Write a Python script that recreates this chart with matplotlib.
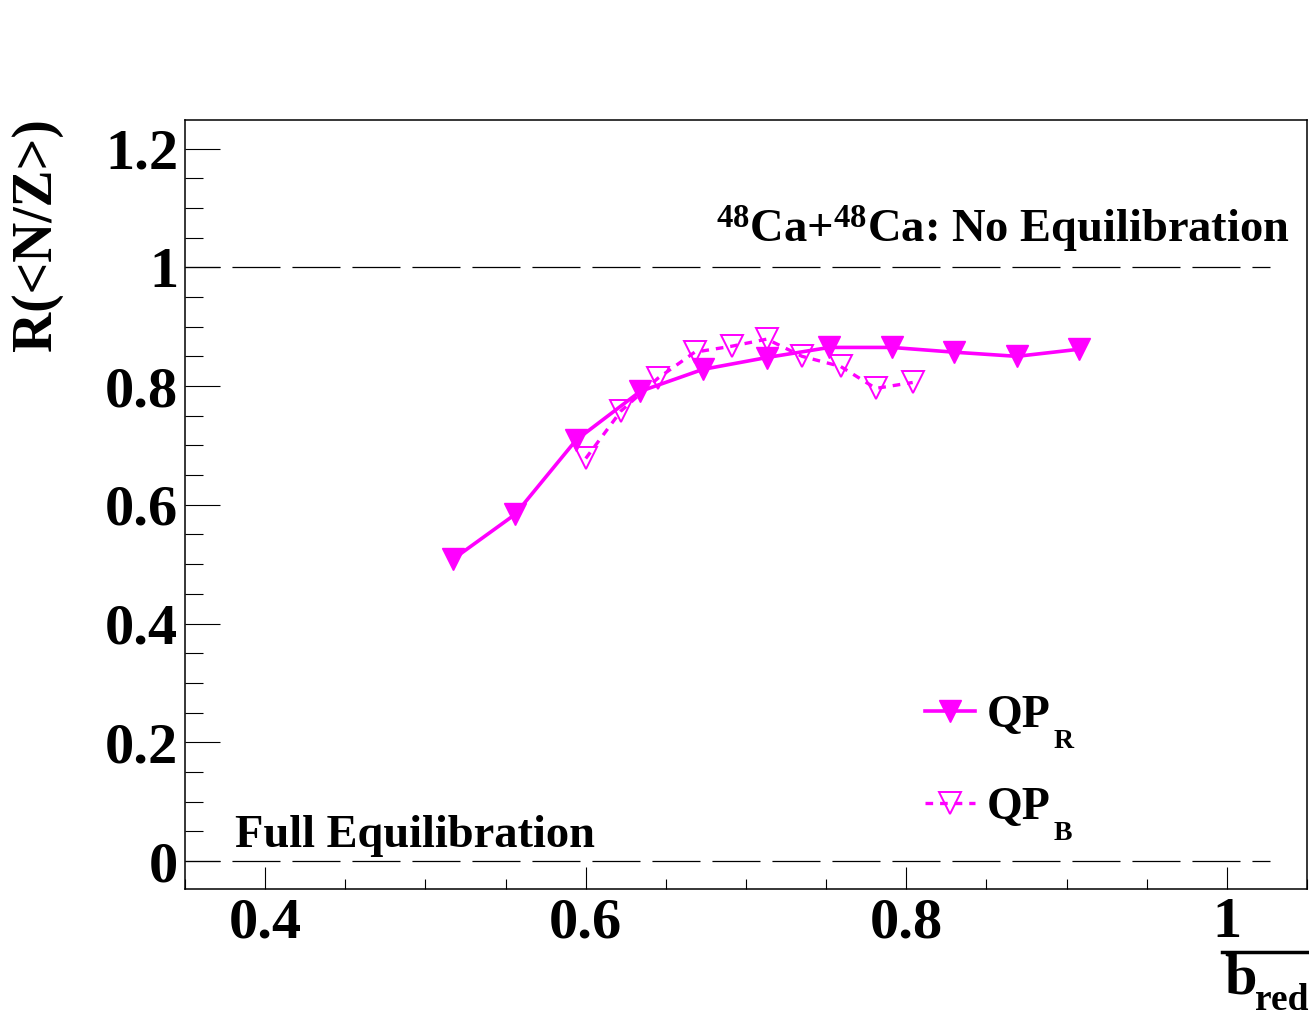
import matplotlib
matplotlib.use("Agg")
import matplotlib.pyplot as plt
from matplotlib.ticker import MultipleLocator, FixedLocator
from matplotlib.lines import Line2D

# ---- data ----
qpr_x = [0.517, 0.556, 0.594, 0.634, 0.673, 0.713, 0.752, 0.791, 0.830, 0.869, 0.908]
qpr_y = [0.508, 0.584, 0.709, 0.791, 0.828, 0.848, 0.865, 0.865, 0.857, 0.850, 0.862]
qpb_x = [0.600, 0.622, 0.645, 0.668, 0.691, 0.713, 0.735, 0.759, 0.781, 0.804]
qpb_y = [0.678, 0.758, 0.813, 0.857, 0.867, 0.879, 0.850, 0.833, 0.796, 0.806]
x_ticks = [0.4, 0.6, 0.8, 1.0]
x_ticklabels = ["0.4", "0.6", "0.8", "1"]
y_ticks = [0, 0.2, 0.4, 0.6, 0.8, 1.0, 1.2]
y_ticklabels = ["0", "0.2", "0.4", "0.6", "0.8", "1", "1.2"]
ref_levels = [0.0, 1.0]
series_names = ["QP", "QP"]
series_subs = ["R", "B"]

plt.rcParams['font.family'] = ['Liberation Serif', 'DejaVu Serif']
plt.rcParams['font.weight'] = 'bold'
plt.rcParams['mathtext.fontset'] = 'custom'
plt.rcParams['mathtext.rm'] = 'Liberation Serif:bold'
plt.rcParams['mathtext.it'] = 'Liberation Serif:bold'
plt.rcParams['mathtext.bf'] = 'Liberation Serif:bold'
plt.rcParams['lines.scale_dashes'] = False

W, H = 1309, 1016
fig = plt.figure(figsize=(W / 100, H / 100), dpi=100)
ax = fig.add_axes([185 / W, 1 - 889 / H, (1307 - 185) / W, (889 - 120) / H])
ax.set_xlim(0.35, 1.05)
ax.set_ylim(-0.047, 1.248)

mag = '#ff00ff'
# reference dashed lines
for lv in ref_levels:
    ax.plot([0.35, 1.027], [lv, lv], color='black', lw=0.9,
            linestyle=(9.4, (34.6, 8.6)), zorder=1)

ax.plot(qpr_x, qpr_y, color=mag, lw=2.6, marker='v', markersize=16,
        markerfacecolor=mag, markeredgecolor=mag, label=series_names[0], zorder=3)
ax.plot(qpb_x, qpb_y, color=mag, lw=2.4, linestyle=(0, (5.5, 5)), marker='v',
        markersize=16, markerfacecolor='none', markeredgecolor=mag, markeredgewidth=1.4,
        label=series_names[1], zorder=3)

ax.xaxis.set_major_locator(FixedLocator(x_ticks))
ax.set_xticklabels(x_ticklabels)
ax.xaxis.set_minor_locator(MultipleLocator(0.05))
ax.yaxis.set_major_locator(FixedLocator(y_ticks))
ax.set_yticklabels(y_ticklabels)
ax.yaxis.set_minor_locator(MultipleLocator(0.05))

ax.tick_params(axis='x', which='major', direction='in', length=15.8, width=0.8,
               labelsize=42, pad=6, top=False)
ax.tick_params(axis='x', which='minor', direction='in', length=7.2, width=0.8, top=False)
ax.tick_params(axis='y', which='major', direction='in', length=25, width=0.8,
               labelsize=42, pad=5, right=False)
ax.tick_params(axis='y', which='minor', direction='in', length=13, width=0.8, right=False)
for lab in ax.get_xticklabels() + ax.get_yticklabels():
    lab.set_fontweight('bold')
for sp in ax.spines.values():
    sp.set_linewidth(1.1)

# annotations
ax.text(1290 / W, 1 - 243 / H, '$^{48}$Ca+$^{48}$Ca: No Equilibration', transform=fig.transFigure,
        ha='right', va='baseline', fontsize=33.5, fontweight='bold')
ax.text(235 / W, 1 - 847 / H, 'Full Equilibration', transform=fig.transFigure,
        ha='left', va='baseline', fontsize=33.5, fontweight='bold')

# y label
fig.text(37 / W, 1 - 118 / H, 'R(<N/Z>)', rotation=90, ha='center', va='top',
         fontsize=40, fontweight='bold')

# x label: fraction bar under the "1" tick label, then b_red
fig.add_artist(Line2D([1222 / W, 1.0], [1 - 952 / H, 1 - 952 / H], transform=fig.transFigure,
                      color='black', lw=2.5))
fig.text(1224 / W, 1 - 993 / H, 'b', ha='left', va='baseline', fontsize=42, fontweight='bold')
fig.text(1255 / W, 1 - 1010 / H, 'red', ha='left', va='baseline', fontsize=27, fontweight='bold')

leg = ax.legend(loc='upper left', bbox_to_anchor=((925 - 185) / (1307 - 185), (889 - 695) / (889 - 120)),
                frameon=False, fontsize=33, handlelength=1.1, handletextpad=0.25,
                labelspacing=1.09, borderpad=0, borderaxespad=0, numpoints=1)

# subscripts of legend labels (ROOT-style, lowered)
fig.canvas.draw()
renderer = fig.canvas.get_renderer()
for t, sub in zip(leg.get_texts(), series_subs):
    bb = t.get_window_extent(renderer)
    descent = 33 / 72 * 100 * 0.216
    base = bb.y0 + descent
    fig.text((bb.x1 + 3) / W, (base - 21) / H, sub, ha='left', va='baseline',
             fontsize=20, fontweight='bold')

fig.savefig('out.png', dpi=100)
